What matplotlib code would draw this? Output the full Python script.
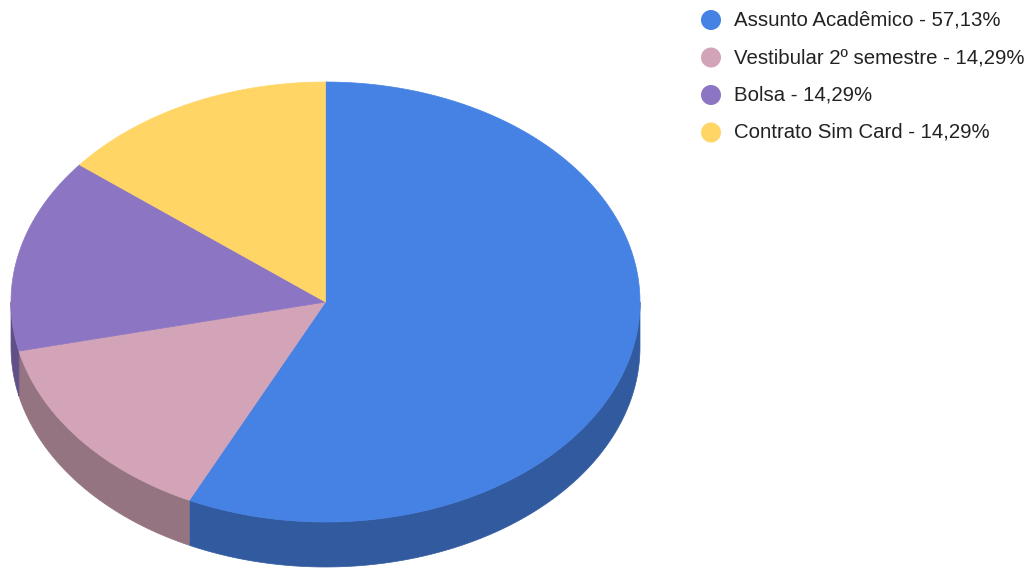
import numpy as np
import matplotlib
matplotlib.use("Agg")
import matplotlib.pyplot as plt
from matplotlib.patches import Polygon, Circle

# Data
categories = ["Assunto Acadêmico", "Vestibular 2º semestre", "Bolsa", "Contrato Sim Card"]
shares = [57.13, 14.29, 14.29, 14.29]
top_colors = ["#4682E4", "#D3A4B8", "#8C76C3", "#FFD666"]
side_colors = ["#325B9F", "#937480", "#615088", "#B39648"]
legend_labels = ["Assunto Acadêmico - 57,13%", "Vestibular 2º semestre - 14,29%",
                 "Bolsa - 14,29%", "Contrato Sim Card - 14,29%"]

W, H = 1034, 568
fig = plt.figure(figsize=(W / 100, H / 100), dpi=100)
ax = fig.add_axes([0, 0, 1, 1])
ax.set_xlim(0, W)
ax.set_ylim(H, 0)
ax.axis("off")

# 3D pie geometry (pixel space)
cx, cy = 325.5, 302.0
rx, ry = 314.5, 220.0
depth = 45.0


def ellipse_pts(a0, a1, yoff=0.0, n=200):
    t = np.radians(np.linspace(a0, a1, n))
    return np.column_stack([cx + rx * np.sin(t), cy - ry * np.cos(t) + yoff])


total = sum(shares)
bounds = np.concatenate([[0], np.cumsum(shares) / total * 360.0])

# Side walls: only the front half (90..270 degrees, clockwise from top)
for i in range(len(shares)):
    a0, a1 = max(bounds[i], 90.0), min(bounds[i + 1], 270.0)
    if a1 <= a0:
        continue
    top = ellipse_pts(a0, a1)
    bot = ellipse_pts(a0, a1, depth)[::-1]
    ax.add_patch(Polygon(np.vstack([top, bot]), closed=True,
                         facecolor=side_colors[i], edgecolor=side_colors[i],
                         linewidth=0.5, zorder=1))

# Top faces
for i in range(len(shares)):
    arc = ellipse_pts(bounds[i], bounds[i + 1])
    pts = np.vstack([[cx, cy], arc])
    ax.add_patch(Polygon(pts, closed=True, facecolor=top_colors[i],
                         edgecolor=top_colors[i], linewidth=0.5, zorder=2))

# Legend
ly0, ldy = 20.0, 37.5
for i, lab in enumerate(legend_labels):
    y = ly0 + i * ldy
    ax.add_patch(Circle((711, y), 10, facecolor=top_colors[i], edgecolor="none", zorder=3))
    ax.text(734, y, lab, fontsize=14.7, family="Liberation Sans", color="#222222",
            va="center", ha="left", zorder=3)

fig.savefig("out.png", dpi=100)
